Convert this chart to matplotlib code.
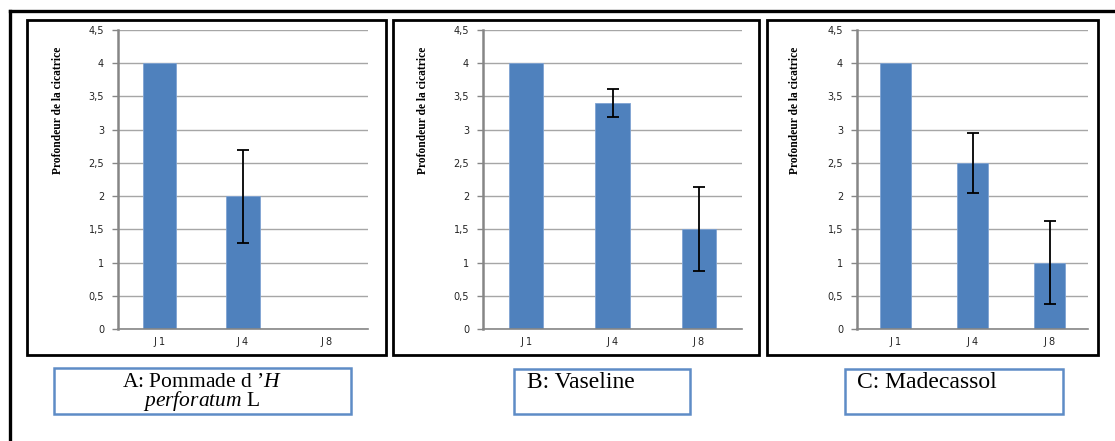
import matplotlib
matplotlib.use("Agg")
import matplotlib.pyplot as plt
from matplotlib.patches import Rectangle
from matplotlib.lines import Line2D
import numpy as np

plt.rcParams['mathtext.fontset'] = 'custom'
plt.rcParams['mathtext.rm'] = 'Liberation Serif'
plt.rcParams['mathtext.it'] = 'Liberation Serif:italic'

categories = ["J 1", "J 4", "J 8"]
values_A = [4.0, 2.0, 0.0]
errors_A = [0.0, 0.7, 0.0]
values_B = [4.0, 3.4, 1.5]
errors_B = [0.0, 0.21, 0.63]
values_C = [4.0, 2.5, 1.0]
errors_C = [0.0, 0.45, 0.63]
yticks = [0, 0.5, 1, 1.5, 2, 2.5, 3, 3.5, 4, 4.5]
ytick_labels = ["0", "0,5", "1", "1,5", "2", "2,5", "3", "3,5", "4", "4,5"]
ylabel = "Profondeur de la cicatrice"
captions = ["A: Pommade d \u2019$\\mathit{H}$\n$\\mathit{perforatum}$ L", "B: Vaseline", "C: Madecassol"]

W, H = 1115, 441
fig = plt.figure(figsize=(W / 100, H / 100), dpi=100)


def rect(x0, y0, x1, y1):
    return [x0 / W, 1 - y1 / H, (x1 - x0) / W, (y1 - y0) / H]


def fig_box(x0, y0, x1, y1, ec, lw):
    fig.patches.append(Rectangle((x0 / W, 1 - y1 / H), (x1 - x0) / W, (y1 - y0) / H,
                                 transform=fig.transFigure, fill=False, ec=ec, lw=lw, zorder=0))


# outer frame lines
fig.lines.append(Line2D([10 / W, 1.0], [1 - 11 / H, 1 - 11 / H], transform=fig.transFigure, color='black', lw=2.4))
fig.lines.append(Line2D([10 / W, 10 / W], [1 - 11 / H, 0], transform=fig.transFigure, color='black', lw=2.4))

panels = [
    dict(vals=values_A, errs=errors_A, ax=(118, 30, 368, 329), box=(27, 20, 386, 355), ylx=58,
         cap=(54, 368, 351, 414), capxy=(202, 393), ha='center', va='center'),
    dict(vals=values_B, errs=errors_B, ax=(483, 30, 742, 329), box=(393, 20, 759, 355), ylx=423,
         cap=(514, 369, 690, 414), capxy=(527, 383), ha='left', va='center'),
    dict(vals=values_C, errs=errors_C, ax=(857, 30, 1088, 329), box=(767, 20, 1098, 355), ylx=795,
         cap=(845, 369, 1063, 414), capxy=(857, 383), ha='left', va='center'),
]

bar_color = '#4F81BD'
for p in panels:
    fig_box(*p['box'], ec='black', lw=2.0)
    ax = fig.add_axes(rect(*p['ax']))
    x = np.arange(len(categories))
    ax.bar(x, p['vals'], width=0.4, color=bar_color, edgecolor='#7FA3D3', linewidth=0.6, zorder=2)
    for xi, v, e in zip(x, p['vals'], p['errs']):
        if e > 0:
            ax.errorbar(xi, v, yerr=e, fmt='none', ecolor='black', elinewidth=1.3, capsize=4,
                        capthick=1.3, zorder=3)
    ax.set_xlim(-0.5, 2.5)
    ax.set_ylim(0, 4.5)
    ax.set_yticks(yticks)
    ax.set_yticklabels(ytick_labels, fontsize=7, color='#222222', family='DejaVu Sans')
    ax.set_xticks(x)
    ax.set_xticklabels(categories, fontsize=7, color='#222222', family='DejaVu Sans')
    ax.tick_params(axis='x', length=0, pad=6)
    ax.tick_params(axis='y', length=4, width=1, color='#868686', pad=6)
    ax.yaxis.grid(True, color='#A6A6A6', linewidth=1)
    ax.set_axisbelow(True)
    for s in ['top', 'right']:
        ax.spines[s].set_visible(False)
    ax.spines['left'].set_color('#868686')
    ax.spines['left'].set_linewidth(1.8)
    ax.spines['bottom'].set_color('#868686')
    ax.spines['bottom'].set_linewidth(1.2)
    ax.patch.set_alpha(0)
    fig.text(p['ylx'] / W, 1 - 110 / H, ylabel, rotation=90, ha='center', va='center',
             fontsize=8.3, fontweight='bold', family='Liberation Serif', color='black')
    fig_box(*p['cap'], ec='#5E8CC6', lw=1.8)

for i, (p, c) in enumerate(zip(panels, captions)):
    fig.text(p['capxy'][0] / W, 1 - p['capxy'][1] / H, c, ha=p['ha'], va=p['va'],
             fontsize=(15.5 if i == 0 else 17), family='Liberation Serif', color='black',
             linespacing=0.85, multialignment='center')

fig.savefig("out.png", dpi=100)
